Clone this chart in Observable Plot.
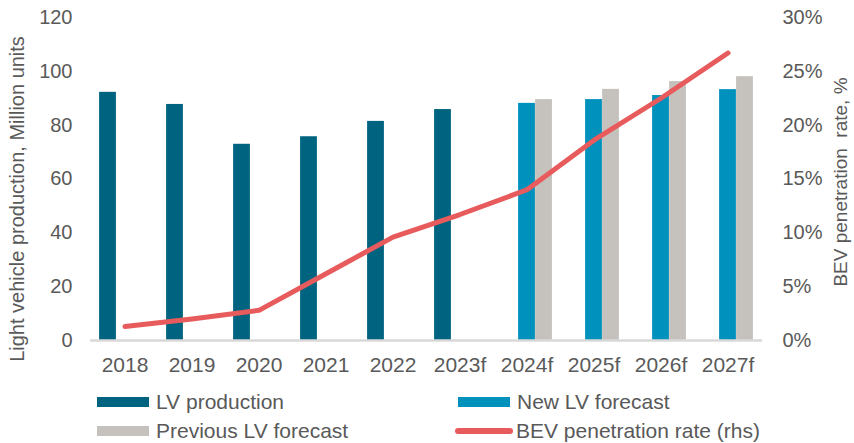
<!DOCTYPE html>
<html>
<head>
<meta charset="utf-8">
<script src="https://cdn.jsdelivr.net/npm/d3@7"></script>
<script src="https://cdn.jsdelivr.net/npm/@observablehq/plot@0.6"></script>
<style>
  html, body { margin: 0; padding: 0; background: #fff; }
  #wrap { position: relative; width: 854px; height: 443px; font-family: "Liberation Sans", Arial, sans-serif; color: #595959; }
  .leg { position: absolute; font-size: 21px; line-height: 24px; white-space: nowrap; }
  .sw { position: absolute; }
</style>
</head>
<body>
<div id="wrap"></div>
<script>
const years = ["2018","2019","2020","2021","2022","2023f","2024f","2025f","2026f","2027f"];
const lvProduction = [92.2, 87.7, 72.9, 75.7, 81.4, 85.8];
const newForecast = [88.1, 89.5, 91.0, 93.2];           // 2024f–2027f
const prevForecast = [89.5, 93.3, 96.2, 98.0];          // 2024f–2027f
const bevRate = [1.3, 2.0, 2.8, 6.2, 9.6, 11.7, 14.0, 18.6, 22.5, 26.7]; // %
const leftTicks = [0, 20, 40, 60, 80, 100, 120];
const rightTicks = [0, 5, 10, 15, 20, 25, 30];

const series = ["LV production", "New LV forecast", "Previous LV forecast", "BEV penetration rate (rhs)"];
const colors = ["#00637F", "#0091BD", "#C5C1BC", "#E85B5D"];

const W = 854, H = 385, mL = 90, mR = 92, mT = 17, mB = 45;
const band = (W - mL - mR) / years.length;
const slot = 17;
const start = (band - 3 * slot) / 2;
const inset = k => ({insetLeft: start + slot * k, insetRight: band - start - slot * (k + 1)});

const barData = [
  ...lvProduction.map((v, i) => ({year: years[i], value: v, k: 0})),
  ...newForecast.map((v, i) => ({year: years[6 + i], value: v, k: 1})),
  ...prevForecast.map((v, i) => ({year: years[6 + i], value: v, k: 2}))
];
const lineData = bevRate.map((v, i) => ({year: years[i], rate: v}));
const ratio = 120 / 30;

const plot = Plot.plot({
  width: W, height: H,
  marginLeft: mL, marginRight: mR, marginTop: mT, marginBottom: mB,
  style: {fontFamily: '"Liberation Sans", Arial, sans-serif', fontSize: "20px", color: "#595959", background: "#fff"},
  x: {domain: years, padding: 0, axis: null},
  y: {domain: [0, 120], axis: null},
  marks: [
    ...[0, 1, 2].map(k => Plot.barY(barData.filter(d => d.k === k), {x: "year", y: "value", fill: colors[k], ...inset(k)})),
    Plot.ruleY([0], {stroke: "#D9D9D9", strokeWidth: 2.5}),
    Plot.line(lineData, {x: "year", y: d => d.rate * ratio, stroke: colors[3], strokeWidth: 5, strokeLinecap: "round", strokeLinejoin: "round"}),
    Plot.axisX({tickSize: 0, tickPadding: 17, fontSize: 21, label: null}),
    Plot.axisY({ticks: leftTicks, tickSize: 0, tickPadding: 18, label: null}),
    Plot.axisY({anchor: "right", ticks: rightTicks.map(t => t * ratio), tickFormat: d => (d / ratio) + "%", tickSize: 0, tickPadding: 20, label: null})
  ]
});

const svg = d3.select(plot);
svg.append("text")
  .attr("transform", "translate(17,199) rotate(-90)")
  .attr("text-anchor", "middle").attr("dominant-baseline", "central")
  .attr("fill", "#595959").attr("font-size", 20)
  .text("Light vehicle production, Million units");
svg.append("text")
  .attr("transform", "translate(840,182) rotate(-90)")
  .attr("text-anchor", "middle").attr("dominant-baseline", "central")
  .attr("fill", "#595959").attr("font-size", 19)
  .style("white-space", "pre")
  .text("BEV penetration  rate, %");

const wrap = document.getElementById("wrap");
wrap.appendChild(plot);

const legendItems = [
  {label: series[0], color: colors[0], x: 97, y: 401.7, line: false},
  {label: series[1], color: colors[1], x: 458, y: 401.7, line: false},
  {label: series[2], color: colors[2], x: 97, y: 430.7, line: false},
  {label: series[3], color: colors[3], x: 455, y: 430.7, line: true}
];
for (const it of legendItems) {
  const sw = document.createElement("div");
  sw.className = "sw";
  if (it.line) {
    Object.assign(sw.style, {left: it.x + "px", top: (it.y - 3) + "px", width: "58px", height: "6px", background: it.color, borderRadius: "3px"});
  } else {
    Object.assign(sw.style, {left: it.x + "px", top: (it.y - 5) + "px", width: "52px", height: "10px", background: it.color});
  }
  wrap.appendChild(sw);
  const t = document.createElement("div");
  t.className = "leg";
  t.textContent = it.label;
  Object.assign(t.style, {left: (it.line ? 516 : it.x + 59) + "px", top: (it.y - 12) + "px"});
  wrap.appendChild(t);
}
</script>
</body>
</html>
